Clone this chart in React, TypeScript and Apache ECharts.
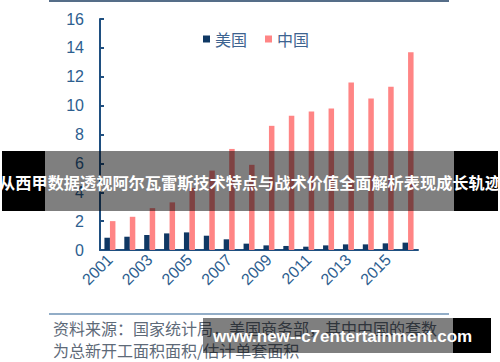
import React, { useEffect, useRef } from "react";
import * as echarts from "echarts";

const years = ["2001","2002","2003","2004","2005","2006","2007","2008","2009","2010","2011","2012","2013","2014","2015","2016"];
const usValues = [0.85,0.92,1.04,1.15,1.22,0.99,0.74,0.44,0.32,0.28,0.23,0.32,0.39,0.39,0.46,0.51];
const chinaValues = [2.0,2.3,2.9,3.3,4.3,5.5,7.0,5.9,8.6,9.3,9.6,9.8,11.6,10.5,11.3,13.7];
const seriesNames = ["美国","中国"];
const sourceLines = ["资料来源：国家统计局，美国商务部，其中中国的套数","为总新开工面积面积/估计单套面积"];
const bannerText = "从西甲数据透视阿尔瓦雷斯技术特点与战术价值全面解析表现成长轨迹";
const watermarkText = "www.new--c7entertainment.com";

export default function App() {
  const ref = useRef<HTMLDivElement>(null);
  useEffect(() => {
    if (!ref.current) return;
    const chart = echarts.init(ref.current, null, { renderer: "svg" });
    const axisBlue = "#1f4f80";
    const labelBlue = "#2d5e8f";
    chart.setOption({
      animation: false,
      backgroundColor: "#ffffff",
      textStyle: { fontFamily: "Liberation Sans, Arial, sans-serif" },
      legend: {
        data: seriesNames,
        left: 198,
        top: 26,
        icon: "rect",
        itemWidth: 7,
        itemHeight: 7,
        itemGap: 18,
        textStyle: { fontSize: 16, color: "#3d6390", fontFamily: "Noto Sans CJK SC" },
      },
      grid: { left: 100, right: 82, top: 19, bottom: 112 },
      xAxis: {
        type: "category",
        data: years,
        axisLine: { lineStyle: { color: axisBlue, width: 2 } },
        axisTick: { show: false },
        axisLabel: { interval: 1, rotate: 45, fontSize: 16, color: labelBlue, margin: 7 },
      },
      yAxis: {
        type: "value",
        min: 0,
        max: 16,
        interval: 2,
        axisLine: { show: true, lineStyle: { color: axisBlue, width: 2 } },
        axisTick: { show: true, inside: true, length: 4, lineStyle: { color: axisBlue, width: 2 } },
        splitLine: { show: false },
        axisLabel: { fontSize: 16, color: labelBlue, margin: 16 },
      },
      series: [
        { name: seriesNames[0], type: "bar", data: usValues, barWidth: 5.5, barGap: "0%", itemStyle: { color: "#0f3864" } },
        { name: seriesNames[1], type: "bar", data: chinaValues, barWidth: 5.5, barGap: "0%", itemStyle: { color: "#ff8585" } },
      ],
      graphic: [
        { type: "line", z: 100, shape: { x1: 49, y1: 1, x2: 449, y2: 1 }, style: { stroke: "#1d3d60", lineWidth: 1.5 } },
        { type: "line", z: 100, shape: { x1: 49, y1: 314, x2: 449, y2: 314 }, style: { stroke: "#6e92b4", lineWidth: 1.5 } },
        { type: "text", z: 100, x: 53, y: 328, style: { text: sourceLines[0], fontSize: 16, fill: "#5e6a78", fontFamily: "Noto Sans CJK SC", verticalAlign: "middle" } },
        { type: "text", z: 100, x: 53, y: 350, style: { text: sourceLines[1], fontSize: 16, fill: "#5e6a78", fontFamily: "Noto Sans CJK SC", verticalAlign: "middle" } },
        { type: "rect", z: 200, shape: { x: 2, y: 151, width: 43, height: 60 }, style: { fill: "#000" } },
        { type: "rect", z: 200, shape: { x: 454, y: 151, width: 44, height: 60 }, style: { fill: "#000" } },
        { type: "rect", z: 200, shape: { x: 45, y: 151, width: 409, height: 60 }, style: { fill: "rgba(0,0,0,0.5)" } },
        { type: "text", z: 201, x: 250, y: 182, style: { text: bannerText, fontSize: 16.2, fontWeight: "bold", fill: "#ffffff", fontFamily: "Noto Sans CJK SC", align: "center", verticalAlign: "middle" } },
        { type: "rect", z: 200, shape: { x: 203, y: 318, width: 250, height: 35 }, style: { fill: "rgba(0,0,0,0.5)" } },
        { type: "rect", z: 200, shape: { x: 453, y: 318, width: 38, height: 35 }, style: { fill: "#000" } },
        { type: "text", z: 201, x: 213, y: 336, style: { text: watermarkText, fontSize: 17, fontWeight: "bold", fill: "#ffffff", fontFamily: "Liberation Sans, Arial, sans-serif", verticalAlign: "middle" } },
      ],
    });
    return () => chart.dispose();
  }, []);
  return <div ref={ref} style={{ position: "absolute", left: 0, top: 0, width: 500, height: 362 }} />;
}
